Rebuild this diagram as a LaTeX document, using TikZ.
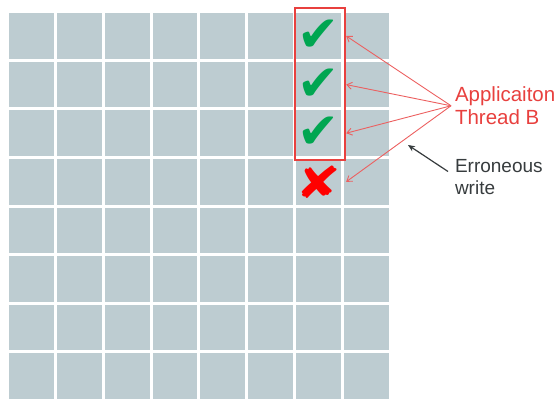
\documentclass[tikz,border=0pt]{standalone}
\usepackage{fontspec}
\setmainfont{Liberation Sans}
\newfontfamily\symbolfont{DejaVu Sans}
\usetikzlibrary{arrows.meta}
\definecolor{cellgray}{RGB}{189,204,209}
\definecolor{threadred}{RGB}{232,64,62}
\definecolor{fanred}{RGB}{236,96,96}
\definecolor{tickgreen}{RGB}{0,166,81}
\definecolor{errgray}{RGB}{55,60,62}
\tikzset{
  cell/.style={
    fill=cellgray,
    draw=none,
    inner sep=0pt,
    minimum width=44.8pt,
    minimum height=45.6pt
  },
  tick/.style={
    text=tickgreen,
    inner sep=0pt,
    font=\symbolfont\fontsize{50}{50}\selectfont
  },
  cross/.style={
    text=red,
    inner sep=0pt,
    xscale=1.25,
    font=\symbolfont\fontsize{44}{44}\selectfont
  },
  threadbox/.style={
    draw=threadred,
    line width=2.4pt,
    inner sep=0pt,
    minimum width=50pt,
    minimum height=152pt
  },
  note/.style={
    inner sep=0pt,
    outer sep=4pt,
    align=left,
    font=\fontsize{19}{21.5}\selectfont
  },
  every picture/.style={
    x=1pt,
    y=-1pt
  }
}

\begin{document}
\begin{tikzpicture}
            \useasboundingbox (0,0) rectangle (558,400);
            \foreach \c in {1,...,8}
              \foreach \r in {1,...,8}
                \node[cell,anchor=north west] (c\c-\r) at ({9+(\c-1)*47.8},{13+(\r-1)*48.6}) {};
            \node[tick] (tick1) at (c7-1) {✔};
            \node[tick] (tick2) at (c7-2) {✔};
            \node[tick] (tick3) at (c7-3) {✔};
            \node[cross,transform shape] (wrong) at (c7-4) {✘};
            \node[threadbox] (thread) at (320,84) {};
            \node[note,text=threadred,anchor=north west,font=\fontsize{20.5}{22.5}\selectfont] (appl) at (451,83) {Applicaiton\\Thread B};
            \node[note,text=errgray,anchor=north west] (err) at (451,155.5) {Erroneous\\write};
            \foreach \t in {tick1,tick2,tick3,wrong}
              \draw[fanred,line width=0.9pt,-{Straight Barb[length=5pt,width=7pt]}] (appl.west) -- (\t -| thread.east);
            \coordinate (errtip) at (408,145);
            \draw[errgray,line width=1.2pt,-{Stealth[length=7pt,width=6pt]}] ([xshift=-3pt,yshift=-16pt]err.north west) -- (errtip);
        \end{tikzpicture}
\end{document}
